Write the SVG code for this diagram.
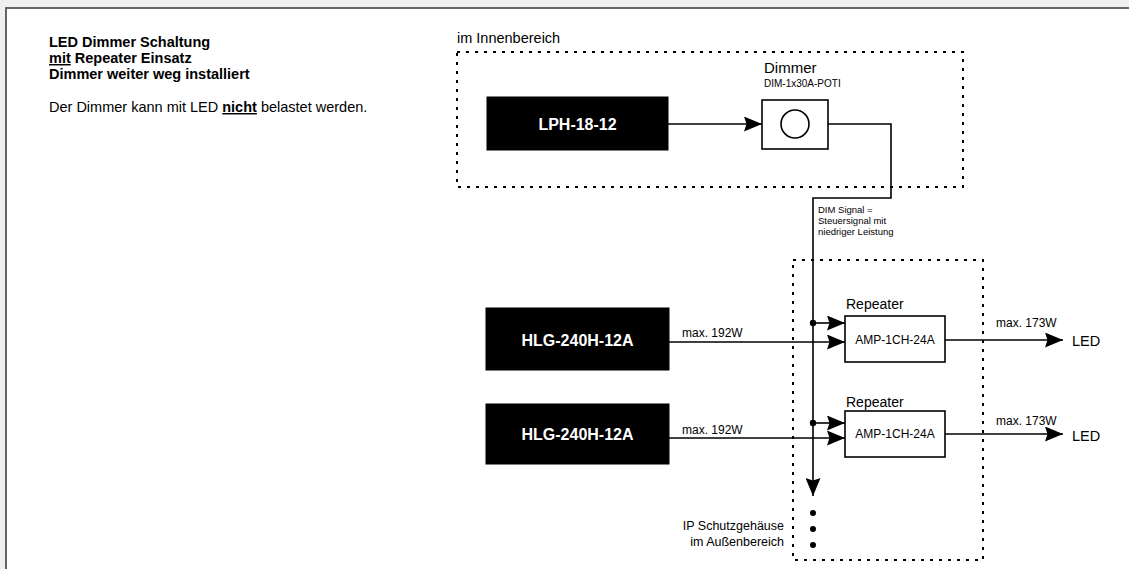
<svg xmlns="http://www.w3.org/2000/svg" width="1129" height="569" viewBox="0 0 1129 569">
<style>
text{font-family:"Liberation Sans",Arial,sans-serif;fill:#000}
.t{font-size:14.5px}
.tb{font-size:14.5px;font-weight:bold}
.wb{font-size:16px;font-weight:bold;fill:#fff}
.s12{font-size:12px}
.s10{font-size:10px}
.s9{font-size:9.5px}
.blk{fill:#000;stroke:#000}
.wbox{fill:#fff;stroke:#000;stroke-width:1.6}
.dot{fill:none;stroke:#000;stroke-width:2;stroke-dasharray:3 6}
.ln{fill:none;stroke:#000;stroke-width:1.6}
</style>
<defs>
<marker id="ah" viewBox="0 0 18 15" refX="18" refY="7.5" markerWidth="18" markerHeight="15" markerUnits="userSpaceOnUse" orient="auto">
<path d="M0,0 L18,7.5 L0,15 L2.5,7.5 Z" fill="#000"/>
</marker>
</defs>
<rect x="0" y="0" width="1129" height="569" fill="#efefef"/>
<rect x="6" y="8" width="1140" height="580" fill="#fff" stroke="#555" stroke-width="1.8"/>
<g id="title">
<text class="tb" x="49" y="47">LED Dimmer Schaltung</text>
<text class="tb" x="49" y="63"><tspan text-decoration="underline">mit</tspan> Repeater Einsatz</text>
<text class="tb" x="49" y="79">Dimmer weiter weg installiert</text>
<text class="t" x="49" y="112">Der Dimmer kann mit LED <tspan font-weight="bold" text-decoration="underline">nicht</tspan> belastet werden.</text>
</g>
<g id="innen">
<text class="t" x="457" y="43">im Innenbereich</text>
<rect class="dot" x="457" y="52" width="506" height="135"/>
</g>
<g id="aussen">
<rect class="dot" x="793" y="260" width="190" height="300"/>
<text x="784" y="530" text-anchor="end" font-size="12.5">IP Schutzgehäuse</text>
<text x="784" y="546" text-anchor="end" font-size="12.5">im Außenbereich</text>
</g>
<g id="lph">
<rect class="blk" x="487" y="97" width="181" height="53"/>
<text class="wb" x="577.5" y="129.5" text-anchor="middle">LPH-18-12</text>
</g>
<g id="dimmer">
<text x="764" y="73" font-size="15">Dimmer</text>
<text class="s10" x="764" y="87">DIM-1x30A-POTI</text>
<rect class="wbox" x="762" y="100" width="66" height="49"/>
<circle cx="795" cy="124" r="14" fill="#fff" stroke="#000" stroke-width="1.6"/>
</g>
<g id="hlg1">
<rect class="blk" x="486" y="308" width="183" height="62"/>
<text class="wb" x="577.5" y="346" text-anchor="middle">HLG-240H-12A</text>
</g>
<g id="hlg2">
<rect class="blk" x="486" y="404" width="183" height="60"/>
<text class="wb" x="577.5" y="440" text-anchor="middle">HLG-240H-12A</text>
</g>
<g id="rep1">
<text x="846" y="309" font-size="14">Repeater</text>
<rect class="wbox" x="845" y="316" width="100" height="46"/>
<text class="s12" x="895" y="344" text-anchor="middle">AMP-1CH-24A</text>
</g>
<g id="rep2">
<text x="846" y="407" font-size="14">Repeater</text>
<rect class="wbox" x="845" y="411" width="100" height="46"/>
<text class="s12" x="895" y="438" text-anchor="middle">AMP-1CH-24A</text>
</g>
<g id="led1"><text class="t" x="1072" y="346">LED</text></g>
<g id="led2"><text class="t" x="1072" y="441">LED</text></g>
<g id="connectors">
<path class="ln" d="M668,124 H762" marker-end="url(#ah)"/>
<path class="ln" d="M828,124 H891 V198 H813 V496" marker-end="url(#ah)"/>
<circle cx="813" cy="323" r="3.2"/>
<circle cx="813" cy="423" r="3.2"/>
<path class="ln" d="M813,323 H845" marker-end="url(#ah)"/>
<path class="ln" d="M813,423 H845" marker-end="url(#ah)"/>
<path class="ln" d="M669,342 H845" marker-end="url(#ah)"/>
<path class="ln" d="M669,438 H845" marker-end="url(#ah)"/>
<path class="ln" d="M945,340 H1063" marker-end="url(#ah)"/>
<path class="ln" d="M945,434 H1063" marker-end="url(#ah)"/>
<text class="s9" x="818" y="213">DIM Signal =</text>
<text class="s9" x="818" y="224">Steuersignal mit</text>
<text class="s9" x="818" y="235">niedriger Leistung</text>
<text class="s12" x="682" y="337">max. 192W</text>
<text class="s12" x="682" y="434">max. 192W</text>
<text class="s12" x="996" y="327">max. 173W</text>
<text class="s12" x="996" y="425">max. 173W</text>
<circle cx="813" cy="513" r="3"/>
<circle cx="813" cy="529" r="3"/>
<circle cx="813" cy="545" r="3"/>
</g>
</svg>
